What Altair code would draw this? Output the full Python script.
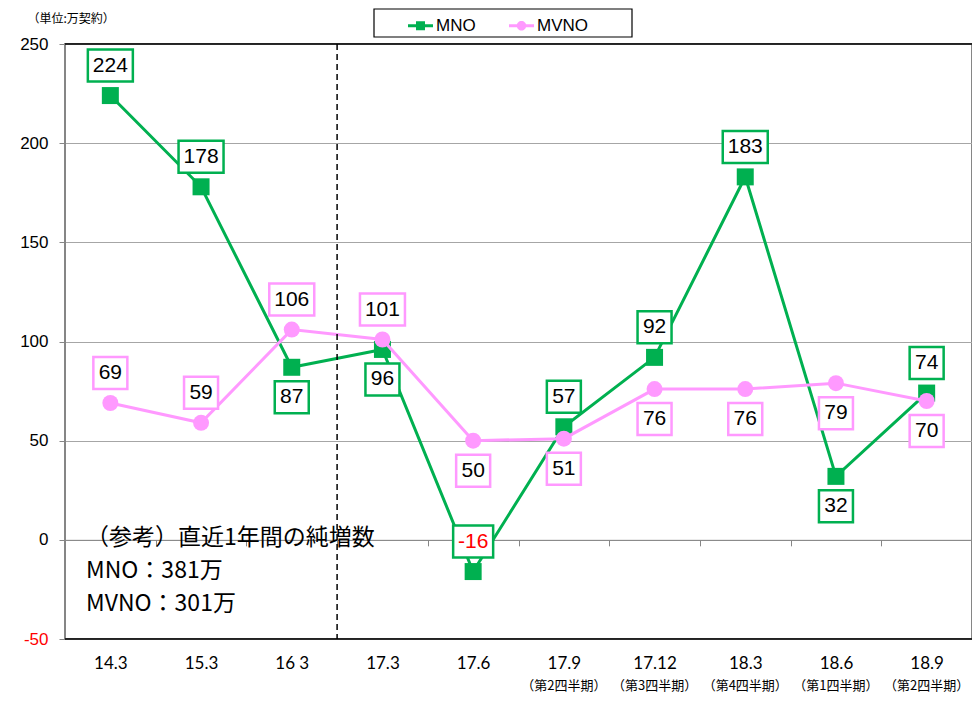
import altair as alt
import pandas as pd

# ---------------- data ----------------
categories = ["14.3", "15.3", "16 3", "17.3", "17.6", "17.9", "17.12", "18.3", "18.6", "18.9"]
sub_labels = ["", "", "", "", "", "（第2四半期）", "（第3四半期）", "（第4四半期）", "（第1四半期）", "（第2四半期）"]
mno_values = [224, 178, 87, 96, -16, 57, 92, 183, 32, 74]
mvno_values = [69, 59, 106, 101, 50, 51, 76, 76, 79, 70]
mno_label_side = ["above", "above", "below", "below", "above", "above", "above", "above", "below", "above"]
mvno_label_side = ["above", "above", "above", "above", "below", "below", "below", "below", "below", "below"]
series_names = ["MNO", "MVNO"]
series_colors = ["#00B050", "#FF99FF"]
y_ticks = [-50, 0, 50, 100, 150, 200, 250]
note_lines = ["（参考）直近1年間の純増数", "MNO：381万", "MVNO：301万"]
unit_label = "（単位:万契約）"
split_before = "17.3"

# ---------------- layout ----------------
W, H = 907, 595
YMIN, YMAX = -50, 250
PX = (YMAX - YMIN) / H          # data units per pixel
Y0_OFFSET = -(H - H * YMAX / (YMAX - YMIN))   # x axis line sits at y = 0

rows = []
for i, c in enumerate(categories):
    rows.append({"cat": c, "series": "MNO", "value": mno_values[i], "side": mno_label_side[i]})
    rows.append({"cat": c, "series": "MVNO", "value": mvno_values[i], "side": mvno_label_side[i]})
df = pd.DataFrame(rows)
sub_df = pd.DataFrame({"cat": categories, "sub": sub_labels})
sub_df = sub_df[sub_df["sub"] != ""]

xs = alt.Scale(type="band", domain=categories, paddingInner=0, paddingOuter=0)
ys = alt.Scale(domain=[YMIN, YMAX], nice=False, zero=False)

x_axis = alt.Axis(
    title=None, labelAngle=0, offset=Y0_OFFSET, domainColor="#868686", tickColor="#868686",
    tickSize=6, tickBand="extent", labelPadding=110, labelFont="Lato", labelFontSize=17,
    labelColor="black", grid=False,
)
y_axis = alt.Axis(
    title=unit_label, titleAngle=0, titleAlign="left", titleBaseline="alphabetic",
    titleX=-38, titleY=-22, titleFont="Noto Sans CJK JP", titleFontSize=12,
    titleFontWeight="normal", titleColor="black",
    values=y_ticks, labelExpr="'' + datum.value", labelFont="Liberation Sans", labelFontSize=17,
    labelColor={"expr": "datum.value < 0 ? 'red' : 'black'"}, labelPadding=11,
    tickSize=6, tickColor="#868686", domainColor="#868686", gridColor="#A6A6A6",
)


def xenc(bp=0.5):
    if bp is None:
        return alt.X("cat:N", scale=xs, axis=x_axis, title=None)
    return alt.X("cat:N", scale=xs, axis=x_axis, bandPosition=bp, title=None)


def yenc(field="value:Q"):
    return alt.Y(field, scale=ys, axis=y_axis, title=None)


base = alt.Chart(df)
labelled = base.transform_calculate(
    label="'' + datum.value",
    yc=f"datum.value + (datum.side == 'above' ? 1 : -1) * {30 * PX}",
).transform_calculate(
    y1=f"datum.yc - {16 * PX}",
    y2=f"datum.yc + {16 * PX}",
    bw="11 * length(replace(datum.label, '-', '')) + 12 + (indexof(datum.label, '-') >= 0 ? 6 : 0)",
)

layers = []

for s, col, shape, size in [("MNO", series_colors[0], "square", 289), ("MVNO", series_colors[1], "circle", 256)]:
    sub = base.transform_filter(alt.datum.series == s)
    layers.append(sub.mark_line(color=col, strokeWidth=3).encode(x=xenc(), y=yenc()))
    layers.append(
        sub.mark_point(shape=shape, filled=True, size=size, color=col, opacity=1).encode(x=xenc(), y=yenc())
    )

for s, col in zip(series_names, series_colors):
    sub = labelled.transform_filter(alt.datum.series == s)
    layers.append(
        sub.mark_bar(fill="white", stroke=col, strokeWidth=2.5).encode(
            x=xenc(None), y=yenc("y1:Q"), y2="y2:Q",
            size=alt.Size("bw:Q", scale=None, legend=None),
        )
    )
    layers.append(
        sub.mark_text(font="Liberation Sans", fontSize=21, baseline="middle").encode(
            x=xenc(), y=yenc("yc:Q"), text="label:N",
            color=alt.condition(alt.datum.value < 0, alt.value("red"), alt.value("black")),
        )
    )

# top / bottom black borders
layers.append(
    alt.Chart(pd.DataFrame({"y": [YMIN, YMAX]}))
    .mark_rule(color="black", strokeWidth=1.5)
    .encode(y=yenc("y:Q"))
)
# dashed separator
layers.append(
    alt.Chart(pd.DataFrame({"cat": [split_before]}))
    .mark_rule(color="black", strokeDash=[6, 4], strokeWidth=1.5)
    .encode(x=xenc(0))
)

# second-line tick labels below x axis
layers.append(
    alt.Chart(sub_df).mark_text(font="Noto Sans CJK JP", fontSize=13, color="black", baseline="middle")
    .encode(x=xenc(), y=alt.value(642), text="sub:N")
)

# annotation
layers.append(
    alt.Chart(pd.DataFrame({"a": [0]}))
    .mark_text(text=note_lines, font="Noto Sans CJK JP", fontSize=23, align="left",
               baseline="middle", lineHeight=33, color="black")
    .encode(x=alt.value(21), y=alt.value(494))
)

# legend frame
layers.append(
    alt.Chart(pd.DataFrame({"a": [0]}))
    .mark_rect(fill="white", stroke="black", strokeWidth=1.2)
    .encode(x=alt.value(309), x2=alt.value(567), y=alt.value(-35), y2=alt.value(-7))
)

# legend layer
sq_path = "M-1,-0.12L1,-0.12L1,0.12L-1,0.12Z M-0.36,-0.36L0.36,-0.36L0.36,0.36L-0.36,0.36Z"
circ_path = "M-1,-0.12L1,-0.12L1,0.12L-1,0.12Z M0.38,0A0.38,0.38 0 1,1 -0.38,0A0.38,0.38 0 1,1 0.38,0Z"
leg = alt.Legend(
    title=None, orient="none", legendX=343, legendY=-31, direction="horizontal", columns=2,
    symbolSize=625, symbolOpacity=1, symbolStrokeWidth=0,
    labelFont="Liberation Sans", labelFontSize=17, labelColor="black", labelOffset=3,
    columnPadding=33, padding=0,
)
layers.append(
    alt.Chart(pd.DataFrame({"series": series_names}))
    .mark_point(filled=True, opacity=0)
    .encode(
        color=alt.Color("series:N", scale=alt.Scale(domain=series_names, range=series_colors), legend=leg),
        shape=alt.Shape("series:N", scale=alt.Scale(domain=series_names, range=[sq_path, circ_path]), legend=leg),
    )
)

chart = (
    alt.layer(*layers)
    .properties(
        width=W, height=H,
        autosize=alt.AutoSizeParams(type="none"),
        padding={"left": 57, "top": 36, "right": 0, "bottom": 54},
    )
    .configure_view(stroke="#868686", strokeWidth=2)
)

chart.save("out.html", embed_options={"renderer": "svg", "actions": False})
